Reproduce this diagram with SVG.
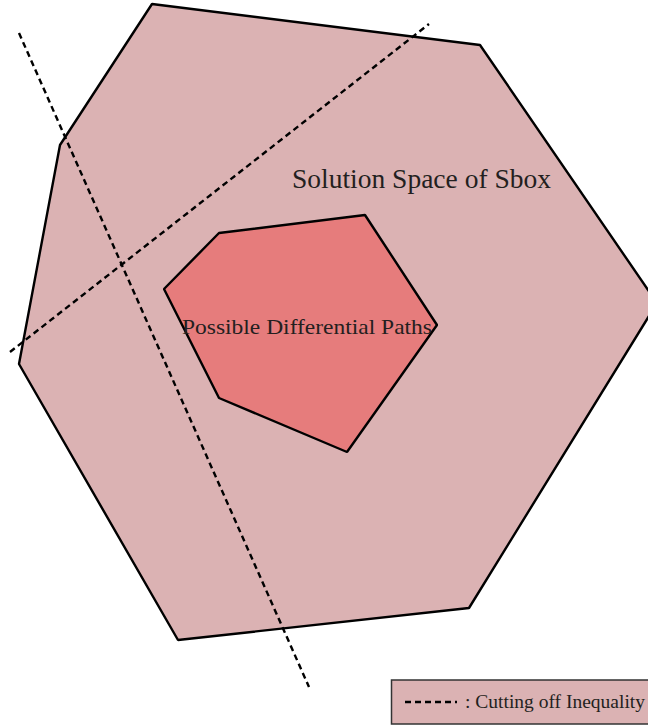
<svg xmlns="http://www.w3.org/2000/svg" width="648" height="726" viewBox="0 0 648 726">
<style>
.poly{stroke:#000;stroke-width:2.4;stroke-linejoin:bevel}
.cut{fill:none;stroke:#000;stroke-width:2.4;stroke-dasharray:6,4}
.lbl{font-family:"Liberation Serif","DejaVu Serif",serif;fill:#231f20}
</style>
<rect width="648" height="726" fill="#fff"/>
<g id="solution-space">
<polygon class="poly" fill="#dbb2b3" points="152,4 480,45 657,303 469,608 178,640 19,364 60,145"/>
<text class="lbl" x="292" y="188" font-size="26.5" textLength="259" lengthAdjust="spacingAndGlyphs">Solution Space of Sbox</text>
</g>
<g id="differential-paths">
<polygon class="poly" fill="#e67c7c" points="219,233 365,215 437,325 347,452 219,398 164,289"/>
<text class="lbl" x="182" y="334" font-size="21.5" textLength="250" lengthAdjust="spacingAndGlyphs">Possible Differential Paths</text>
</g>
<g id="connectors">
<line class="cut" x1="19" y1="33" x2="309" y2="687"/>
<line class="cut" x1="10" y1="352" x2="429" y2="24"/>
</g>
<g id="legend">
<rect x="391.5" y="680" width="262" height="44" fill="#dbb2b3" stroke="#333" stroke-width="1.5"/>
<line class="cut" x1="405" y1="702" x2="457" y2="702" stroke-dasharray="5,3.5"/>
<text class="lbl" x="465" y="708" font-size="18.5" textLength="180" lengthAdjust="spacingAndGlyphs">: Cutting off Inequality</text>
</g>
</svg>
